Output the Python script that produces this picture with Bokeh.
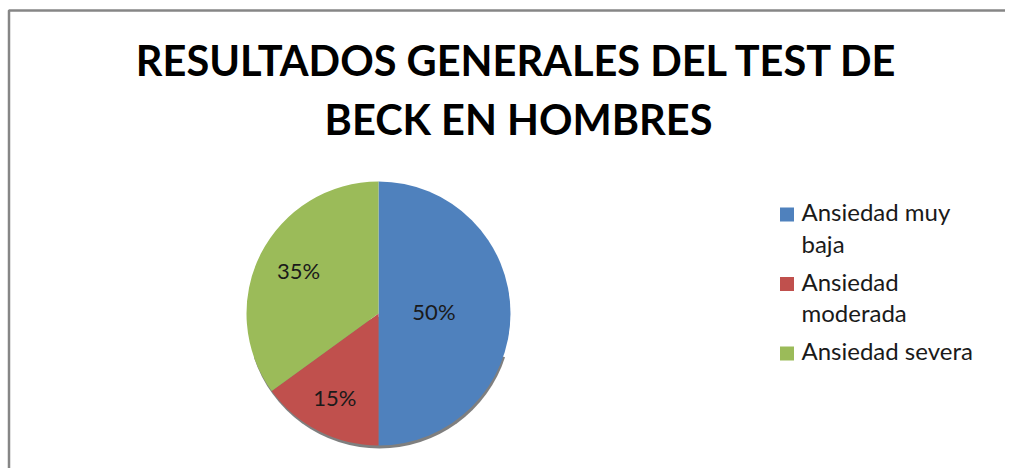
import numpy as np
from bokeh.plotting import figure
from bokeh.models import Range1d, ColumnDataSource
from bokeh.core.properties import value
from bokeh.embed import file_html
from bokeh.resources import INLINE

# ---- data ----
categories = ["Ansiedad muy baja", "Ansiedad moderada", "Ansiedad severa"]
legend_lines = [["Ansiedad muy", "baja"], ["Ansiedad", "moderada"], ["Ansiedad severa"]]
percentages = [50, 15, 35]
colors = ["#4F81BD", "#C0504D", "#9BBB59"]
title_lines = ["RESULTADOS GENERALES DEL TEST DE", "BECK EN HOMBRES"]

W, H = 1005, 468
FONT = "Lato"
TITLE_FONT = "Lato"

def Y(yimg):
    return H - yimg

p = figure(width=W, height=H, output_backend="svg", toolbar_location=None,
           x_range=Range1d(0, W), y_range=Range1d(0, H), min_border=0)
p.axis.visible = False
p.grid.visible = False
p.outline_line_color = None
p.background_fill_color = "white"
p.border_fill_color = "white"

# chart frame (top & left edges visible)
p.line([8.5, 8.5, W], [0, Y(10), Y(10)], line_color="#868686", line_width=2.5)

# pie
cx, cy, r = 378, Y(313), 132
vals = np.array(percentages, dtype=float)
frac = vals / vals.sum()
cum = np.concatenate([[0], np.cumsum(frac)])
start = np.pi / 2 - 2 * np.pi * cum[:-1]
end = np.pi / 2 - 2 * np.pi * cum[1:]
mid = (start + end) / 2

# shadow
p.wedge(x=cx + 1, y=cy - 3, radius=r, start_angle=np.pi * 1.1, end_angle=np.pi * 1.9,
        direction="anticlock", fill_color="#2a2a2a", fill_alpha=0.6, line_color=None)

src = ColumnDataSource(dict(start=start, end=end, color=colors, cat=categories))
p.wedge(x=cx, y=cy, radius=r, start_angle="start", end_angle="end", direction="clock",
        fill_color="color", line_color=None, source=src)

# labels
lab_r = np.array([0.42, 0.73, 0.68]) * r
lx = cx + lab_r * np.cos(mid)
ly = cy + lab_r * np.sin(mid) + 2
p.text(x=lx, y=ly, text=[f"{v}%" for v in percentages], text_align="center",
       text_baseline="middle", text_font=value(FONT), text_font_size="22px",
       text_color="#1a1a1a")

# title
p.text(x=[517, 518], y=[Y(59.5), Y(118.5)], text=title_lines,
       text_align="center", text_baseline="middle", text_font=value(TITLE_FONT),
       text_font_style="bold", text_font_size="41.5px", text_color="#000000")

# legend
txt_x, sq_x = 801, 786.5
first_y, line_h, item_gap = 211, 31.5, 38
ys, sq_y = [], []
y = first_y
for lines in legend_lines:
    sq_y.append(y + 3)
    for i, ln in enumerate(lines):
        ys.append((ln, y))
        if i < len(lines) - 1:
            y += line_h
    y += item_gap
p.rect(x=[sq_x] * 3, y=[Y(v) for v in sq_y], width=14, height=14,
       fill_color=colors, line_color=None)
p.text(x=[txt_x] * len(ys), y=[Y(v) for _, v in ys], text=[t for t, _ in ys],
       text_align="left", text_baseline="middle", text_font=value(FONT),
       text_font_size="24px", text_color="#1a1a1a")

open("out.html", "w").write(file_html(p, INLINE))
